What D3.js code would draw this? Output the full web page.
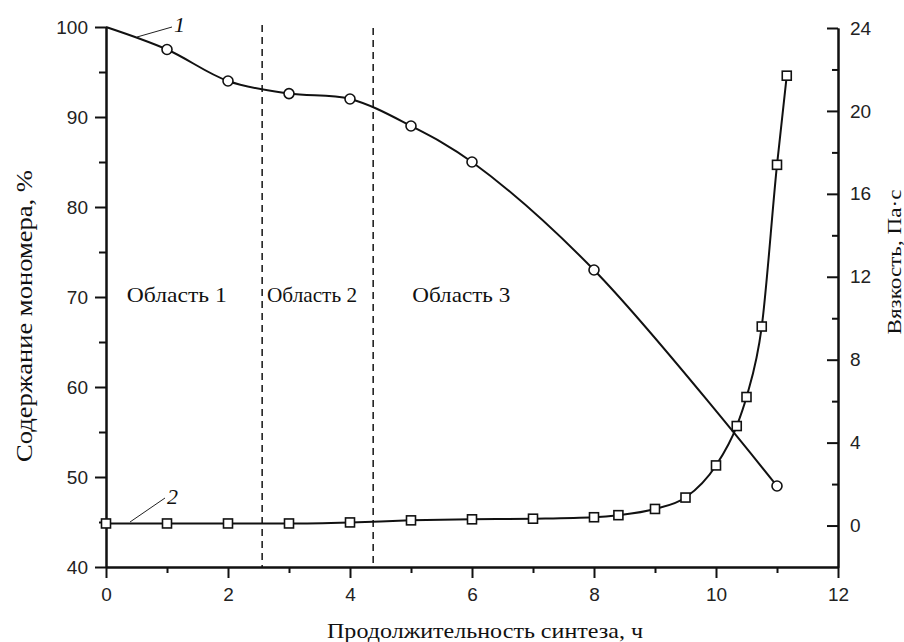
<!DOCTYPE html>
<html><head><meta charset="utf-8">
<script src="https://cdn.jsdelivr.net/npm/d3@7"></script>
<style>
body{margin:0;background:#fff;}
svg{display:block;}
.tick text{font-family:"Liberation Sans",Arial,sans-serif;font-size:19px;fill:#222;}
.serif{font-family:"Liberation Serif","Times New Roman",serif;fill:#111;}
</style></head>
<body>
<svg id="c" width="904" height="642"></svg>
<script>
// ---- data ----
const monomerTime = [0, 1, 2, 3, 4, 5, 6, 8, 11];
const monomerContent = [100, 97.5, 94, 92.6, 92, 89, 85, 73, 49];
const viscTime = [0, 1, 2, 3, 4, 5, 6, 7, 8, 8.4, 9, 9.5, 10, 10.34, 10.5, 10.75, 11.0, 11.16];
const viscValue = [0.1, 0.1, 0.1, 0.1, 0.15, 0.25, 0.3, 0.33, 0.4, 0.5, 0.8, 1.35, 2.9, 4.8, 6.2, 9.6, 17.4, 21.7];
const xTicks = [0, 2, 4, 6, 8, 10, 12];
const xMinor = [1, 3, 5, 7, 9, 11];
const leftTicks = [40, 50, 60, 70, 80, 90, 100];
const leftMinor = [45, 55, 65, 75, 85, 95];
const rightTicks = [0, 4, 8, 12, 16, 20, 24];
const rightMinor = [2, 6, 10, 14, 18, 22];
const regionBounds = [2.56, 4.38];
const regionLabels = [
  {text: "Область 1", x: 0.34, w: 100},
  {text: "Область 2", x: 2.64, w: 90},
  {text: "Область 3", x: 5.02, w: 98}
];
const xTitle = "Продолжительность синтеза, ч";
const leftTitle = "Содержание мономера, %";
const rightTitle = "Вязкость, Па·с";

// ---- layout ----
const svg = d3.select("#c");
const x = d3.scaleLinear().domain([0, 12]).range([106, 838]);
const yL = d3.scaleLinear().domain([40, 100]).range([567, 27]);
const yR = d3.scaleLinear().domain([-2, 24]).range([567, 28]);

function styleAxis(g){
  g.select(".domain").attr("stroke","#111").attr("stroke-width",2);
  g.selectAll(".tick line").attr("stroke","#111").attr("stroke-width",2);
}

// dashed region lines
svg.selectAll("line.region").data(regionBounds).join("line")
  .attr("class","region")
  .attr("x1", d=>x(d)).attr("x2", d=>x(d))
  .attr("y1", (d,i)=> i===0 ? 25 : 28).attr("y2", 567)
  .attr("stroke","#222").attr("stroke-width",1.6).attr("stroke-dasharray","7,5");

// axes
svg.append("g").attr("transform","translate(0,567)")
  .call(d3.axisBottom(x).tickValues(xMinor).tickSize(6).tickFormat("").tickSizeOuter(0)).call(styleAxis);
svg.append("g").attr("transform","translate(0,567)")
  .call(d3.axisBottom(x).tickValues(xTicks).tickSize(11).tickPadding(10).tickSizeOuter(0).tickFormat(d3.format("d"))).call(styleAxis);

svg.append("g").attr("transform","translate(106,0)")
  .call(d3.axisLeft(yL).tickValues(leftMinor).tickSize(7).tickFormat("").tickSizeOuter(0)).call(styleAxis);
svg.append("g").attr("transform","translate(106,0)")
  .call(d3.axisLeft(yL).tickValues(leftTicks).tickSize(11).tickPadding(7).tickSizeOuter(0).tickFormat(d3.format("d"))).call(styleAxis);

svg.append("g").attr("transform","translate(838,0)")
  .call(d3.axisRight(yR).tickValues(rightMinor).tickSizeInner(-6).tickSizeOuter(0).tickFormat("")).call(styleAxis);
svg.append("g").attr("transform","translate(838,0)")
  .call(d3.axisRight(yR).tickValues(rightTicks).tickSizeInner(-11).tickSizeOuter(0).tickPadding(12).tickFormat(d3.format("d"))).call(styleAxis);

// curves
const m1 = monomerTime.map((t,i)=>[t, monomerContent[i]]);
const v2 = viscTime.map((t,i)=>[t, viscValue[i]]);
svg.append("path").datum(m1)
  .attr("d", d3.line().x(d=>x(d[0])).y(d=>yL(d[1])).curve(d3.curveCatmullRom.alpha(0.5)))
  .attr("fill","none").attr("stroke","#111").attr("stroke-width",2);
svg.append("path").datum(v2)
  .attr("d", d3.line().x(d=>x(d[0])).y(d=>yR(d[1])).curve(d3.curveMonotoneX))
  .attr("fill","none").attr("stroke","#111").attr("stroke-width",2);

// markers
svg.selectAll("circle.m").data(m1.slice(1)).join("circle")
  .attr("class","m").attr("cx",d=>x(d[0])).attr("cy",d=>yL(d[1])).attr("r",5)
  .attr("fill","#fff").attr("stroke","#111").attr("stroke-width",1.6);
svg.selectAll("rect.v").data(v2).join("rect")
  .attr("class","v").attr("x",d=>x(d[0])-4.5).attr("y",d=>yR(d[1])-4.5)
  .attr("width",9).attr("height",9)
  .attr("fill","#fff").attr("stroke","#111").attr("stroke-width",1.6);

// region labels
svg.selectAll("text.reg").data(regionLabels).join("text")
  .attr("class","reg serif").attr("x",d=>x(d.x)).attr("y",302)
  .attr("font-size",22).attr("textLength",d=>d.w).attr("lengthAdjust","spacingAndGlyphs")
  .text(d=>d.text);

// curve labels with leader lines
svg.append("line").attr("x1",137).attr("y1",37).attr("x2",172).attr("y2",27).attr("stroke","#222").attr("stroke-width",1);
svg.append("text").attr("class","serif").attr("x",174).attr("y",32)
  .attr("font-size",22).attr("font-style","italic").text("1");
svg.append("line").attr("x1",130).attr("y1",522).attr("x2",165).attr("y2",498).attr("stroke","#222").attr("stroke-width",1);
svg.append("text").attr("class","serif").attr("x",167).attr("y",504)
  .attr("font-size",22).attr("font-style","italic").text("2");

// axis titles
svg.append("text").attr("class","serif").attr("x",485).attr("y",638)
  .attr("text-anchor","middle").attr("font-size",22)
  .attr("textLength",316).attr("lengthAdjust","spacingAndGlyphs").text(xTitle);
svg.append("text").attr("class","serif")
  .attr("transform","translate(32,316) rotate(-90)")
  .attr("text-anchor","middle").attr("font-size",23)
  .attr("textLength",292).attr("lengthAdjust","spacingAndGlyphs").text(leftTitle);
svg.append("text").attr("class","serif")
  .attr("transform","translate(901,262) rotate(-90)")
  .attr("text-anchor","middle").attr("font-size",18)
  .attr("textLength",145).attr("lengthAdjust","spacingAndGlyphs").text(rightTitle);
</script>
</body></html>
